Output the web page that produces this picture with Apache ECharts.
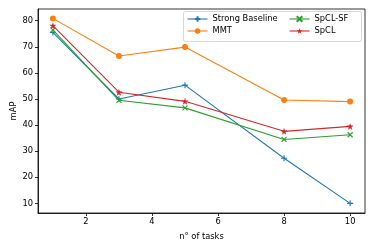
<!DOCTYPE html>
<html><head><meta charset="utf-8">
<script src="https://cdn.jsdelivr.net/npm/echarts@6/dist/echarts.min.js"></script>
<style>html,body{margin:0;padding:0;background:#fff}#c{width:374px;height:249px}</style>
</head><body><div id="c"></div>
<script>
const tasks = [1, 3, 5, 8, 10];
const strongBaseline = [75.5, 50.0, 55.3, 27.3, 10.0];
const mmt = [80.9, 66.5, 69.9, 49.6, 49.0];
const spclSF = [76.5, 49.5, 46.6, 34.5, 36.3];
const spcl = [78.1, 52.6, 49.1, 37.6, 39.5];
const xTicks = [2, 4, 6, 8, 10];
const yTicks = [10, 20, 30, 40, 50, 60, 70, 80];
const names = ['Strong Baseline', 'MMT', 'SpCL-SF', 'SpCL'];

const colors = ['#1f77b4', '#ff7f0e', '#2ca02c', '#d62728'];
const plusPath = 'path://M0,5L10,5M5,0L5,10';
const xPath = 'path://M0,0L10,10M10,0L0,10';
const starPath = 'path://M5,0L6.18,3.38L9.76,3.45L6.9,5.62L7.94,9.05L5,7L2.06,9.05L3.1,5.62L0.24,3.45L3.82,3.38Z';
const font = 'DejaVu Sans';
const fs = 8.3;

function mk(name, vals, i, symbol, size, stroke) {
  return {
    name, type: 'line',
    data: tasks.map((t, k) => [t, vals[k]]),
    symbol, symbolSize: size, showSymbol: true,
    lineStyle: { color: colors[i], width: 1.1 },
    itemStyle: stroke ? { color: colors[i], borderColor: colors[i], borderWidth: 1.1 } : { color: colors[i], borderWidth: 0 },
    emphasis: { disabled: true },
    animation: false,
    z: 2 + i
  };
}

const chart = echarts.init(document.getElementById('c'), null, { renderer: 'canvas' });
const legendCommon = {
  orient: 'vertical', itemWidth: 20, itemHeight: 7, itemGap: 4,
  textStyle: { fontFamily: font, fontSize: fs, color: '#000' },
  lineStyle: { width: 1.1 },
  selectedMode: false, padding: 0, z: 20
};
chart.setOption({
  animation: false,
  grid: { left: 38, right: 9, top: 9, bottom: 36, show: true, borderColor: '#000', borderWidth: 0.8, outerBoundsMode: 'none', containLabel: false },
  xAxis: {
    type: 'value', min: 0.55, max: 10.45,
    name: 'n° of tasks', nameLocation: 'middle', nameGap: 20, nameMoveOverlap: false,
    nameTextStyle: { fontFamily: font, fontSize: fs, color: '#000' },
    axisLine: { show: true, onZero: false, lineStyle: { color: '#000', width: 0.8 } },
    axisTick: { show: true, length: 3, customValues: xTicks, lineStyle: { color: '#000', width: 0.8 } },
    axisLabel: { customValues: xTicks, fontFamily: font, fontSize: fs, color: '#000', margin: 5 },
    splitLine: { show: false }
  },
  yAxis: {
    type: 'value', min: 6.3, max: 84.5,
    name: 'mAP', nameLocation: 'middle', nameGap: 20, nameMoveOverlap: false,
    nameTextStyle: { fontFamily: font, fontSize: fs, color: '#000' },
    axisLine: { show: true, onZero: false, lineStyle: { color: '#000', width: 0.8 } },
    axisTick: { show: true, length: 3, customValues: yTicks, lineStyle: { color: '#000', width: 0.8 } },
    axisLabel: { customValues: yTicks, fontFamily: font, fontSize: fs, color: '#000', margin: 5 },
    splitLine: { show: false }
  },
  legend: [
    Object.assign({ data: [names[0], names[1]], left: 187, top: 15 }, legendCommon),
    Object.assign({ data: [names[2], names[3]], left: 289, top: 15 }, legendCommon)
  ],
  graphic: [{
    type: 'rect', shape: { x: 183.5, y: 11.5, width: 178, height: 30, r: 2 },
    style: { fill: 'rgba(255,255,255,0.85)', stroke: '#cccccc', lineWidth: 0.8 }, z: 1
  }],
  series: [
    mk(names[0], strongBaseline, 0, plusPath, 6, true),
    mk(names[1], mmt, 1, 'circle', 6, false),
    mk(names[2], spclSF, 2, xPath, 5, true),
    mk(names[3], spcl, 3, starPath, 7, false)
  ]
});
</script></body></html>
